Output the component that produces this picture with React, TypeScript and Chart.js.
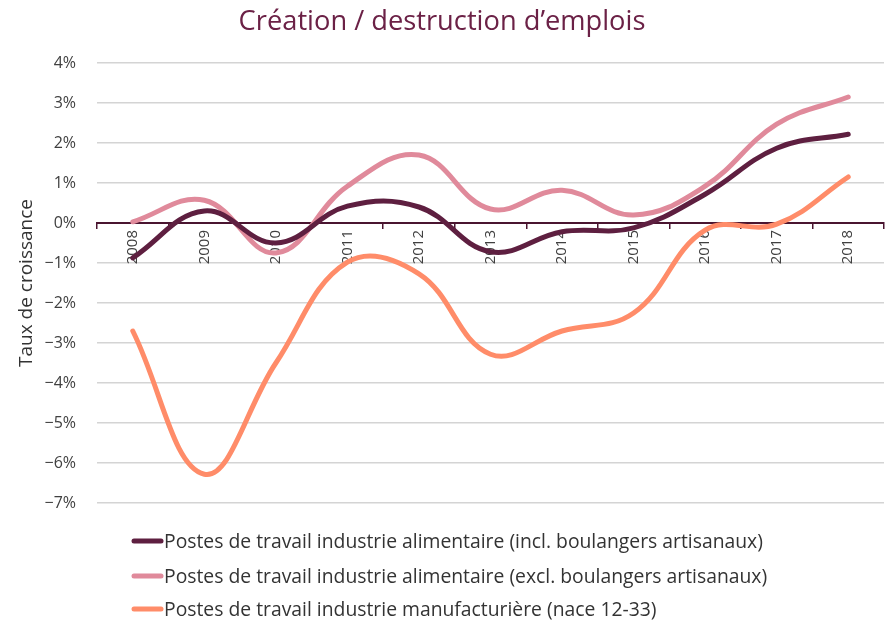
import React, { useEffect, useRef } from "react";
import { Chart, registerables } from "chart.js";

Chart.register(...registerables);

const years = ["2008", "2009", "2010", "2011", "2012", "2013", "2014", "2015", "2016", "2017", "2018"];
const inclBoulangers = [-0.87, 0.3, -0.5, 0.42, 0.4, -0.72, -0.22, -0.12, 0.72, 1.87, 2.22];
const exclBoulangers = [0.03, 0.57, -0.75, 0.92, 1.7, 0.35, 0.82, 0.2, 0.92, 2.47, 3.15];
const manufacturiere = [-2.7, -6.28, -3.5, -0.98, -1.27, -3.28, -2.7, -2.25, -0.18, -0.03, 1.15];

const seriesLabels = [
  "Postes de travail industrie alimentaire (incl. boulangers artisanaux)",
  "Postes de travail industrie alimentaire (excl. boulangers artisanaux)",
  "Postes de travail industrie manufacturière (nace 12-33)",
];
const titleText = "Création / destruction d’emplois";
const yTitleText = "Taux de croissance";
const colors = ["#5e1f40", "#e08a9b", "#ff8c69"];
const FONT = "'Open Sans', 'Noto Sans', sans-serif";

function fitSize(text: string, target: number): number {
  const c = document.createElement("canvas").getContext("2d")!;
  c.font = `100px ${FONT}`;
  const w = c.measureText(text).width;
  return (100 * target) / w;
}

export default function App() {
  const ref = useRef<HTMLCanvasElement>(null);
  useEffect(() => {
    document.body.style.margin = "0";
    const titleSize = fitSize(titleText, 407);
    const legendSize = fitSize(seriesLabels[0], 599);
    const yTitleSize = fitSize(yTitleText, 168);

    const legendPlugin = {
      id: "customLegend",
      afterDraw(chart: any) {
        const ctx = chart.ctx;
        const ys = [541, 576, 609];
        ctx.save();
        chart.data.datasets.forEach((ds: any, i: number) => {
          const y = ys[i];
          ctx.strokeStyle = ds.borderColor;
          ctx.lineWidth = 5;
          ctx.lineCap = "round";
          ctx.beginPath();
          ctx.moveTo(134, y);
          ctx.lineTo(161, y);
          ctx.stroke();
          ctx.fillStyle = "#333333";
          ctx.font = `${legendSize}px ${FONT}`;
          ctx.textBaseline = "middle";
          ctx.textAlign = "left";
          ctx.fillText(ds.label, 164, y + 1);
        });
        ctx.restore();
      },
    };

    const chart = new Chart(ref.current!, {
      type: "line",
      data: {
        labels: years,
        datasets: [inclBoulangers, exclBoulangers, manufacturiere].map((d, i) => ({
          label: seriesLabels[i],
          data: d,
          borderColor: colors[i],
          backgroundColor: colors[i],
          borderWidth: 5,
          borderCapStyle: "round",
          pointRadius: 0,
          tension: 0.4,
          fill: false,
        })),
      },
      options: {
        animation: false,
        responsive: false,
        layout: { padding: { left: 0, right: 6, top: 0, bottom: 118 } },
        plugins: {
          legend: { display: false },
          tooltip: { enabled: false },
          title: {
            display: true,
            text: titleText,
            color: "#6b2146",
            font: { family: FONT, size: titleSize, weight: "normal", lineHeight: 1.2 },
            padding: { top: 22 - titleSize * 0.6, bottom: 63 - 22 - titleSize * 0.6 },
          },
        },
        scales: {
          x: {
            type: "category",
            position: { y: 0 },
            offset: true,
            grid: {
              offset: true,
              drawOnChartArea: false,
              drawTicks: true,
              tickLength: 5,
              color: "#4a1530",
              lineWidth: 1.5,
            },
            border: { display: true, color: "#4a1530", width: 2 },
            ticks: {
              autoSkip: false,
              minRotation: 90,
              maxRotation: 90,
              padding: 2,
              color: "#404040",
              font: { family: FONT, size: 15 },
            },
          },
          y: {
            min: -7,
            max: 4,
            afterFit(scale: any) {
              scale.width = 97;
            },
            grid: { color: "#d4d4d4", lineWidth: 1.5, drawTicks: false },
            border: { display: false },
            ticks: {
              stepSize: 1,
              padding: 21,
              color: "#404040",
              font: { family: FONT, size: 16 },
              callback: (v: any) => `${v}%`.replace("-", "−"),
            },
            title: {
              display: true,
              text: yTitleText,
              color: "#333333",
              font: { family: FONT, size: yTitleSize, lineHeight: 1.2 },
              padding: { top: 27 - yTitleSize * 0.6, bottom: 0 },
            },
          },
        },
      },
      plugins: [legendPlugin],
    } as any);
    return () => chart.destroy();
  }, []);
  return (
    <div style={{ position: "absolute", left: 0, top: 0, width: 890, height: 621 }}>
      <canvas ref={ref} width={890} height={621} />
    </div>
  );
}
